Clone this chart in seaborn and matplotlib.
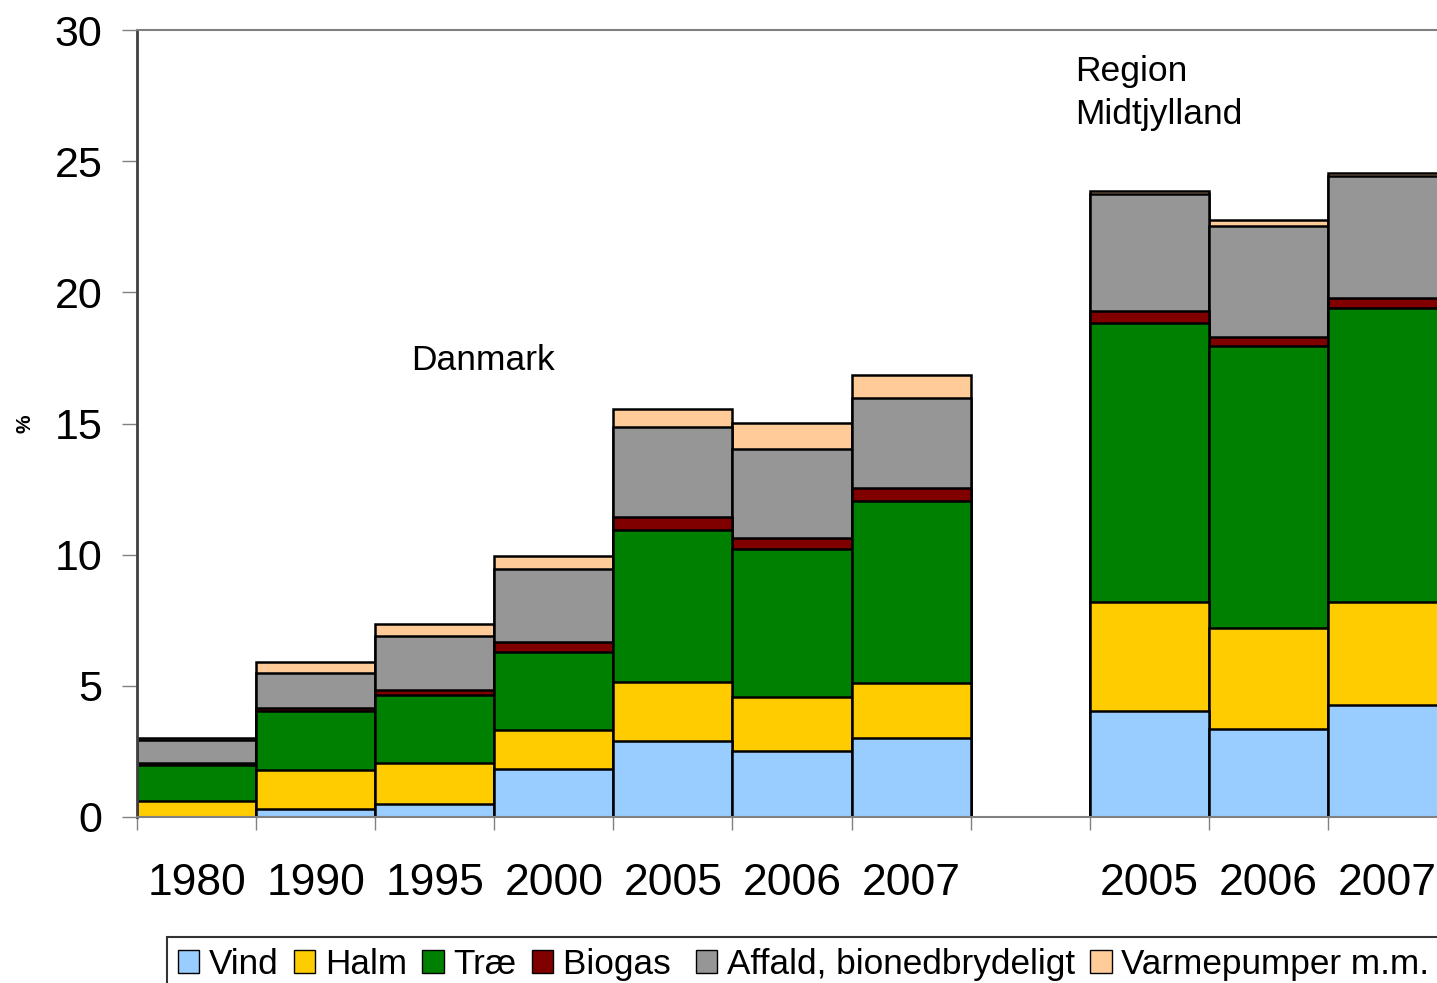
import pandas as pd
import matplotlib.pyplot as plt
import seaborn as sns
from matplotlib.patches import Patch

# ---------- data (percent) ----------
slots = ['DK1980', 'DK1990', 'DK1995', 'DK2000', 'DK2005', 'DK2006', 'DK2007',
         'gap', 'MJ2005', 'MJ2006', 'MJ2007']
tick_labels = ['1980', '1990', '1995', '2000', '2005', '2006', '2007',
               '', '2005', '2006', '2007']
bar_keys = [s for s in slots if s != 'gap']

vind   = [0.0, 0.3, 0.5, 1.83, 2.9, 2.5, 3.01, 4.03, 3.35, 4.26]
halm   = [0.6, 1.5, 1.55, 1.5, 2.23, 2.09, 2.11, 4.15, 3.84, 3.94]
trae   = [1.4, 2.25, 2.6, 2.95, 5.81, 5.61, 6.94, 10.66, 10.75, 11.21]
biogas = [0.05, 0.1, 0.2, 0.38, 0.48, 0.44, 0.47, 0.44, 0.37, 0.39]
affald = [0.9, 1.35, 2.05, 2.8, 3.46, 3.38, 3.45, 4.46, 4.23, 4.64]
varme  = [0.05, 0.4, 0.45, 0.5, 0.66, 1.01, 0.88, 0.13, 0.22, 0.11]

sources = ['Vind', 'Halm', 'Træ', 'Biogas', 'Affald, bionedbrydeligt', 'Varmepumper m.m.']
colors = ['#99CCFF', '#FFCC00', '#008000', '#800000', '#969696', '#FFCC99']

df = pd.DataFrame({'slot': bar_keys, 'Vind': vind, 'Halm': halm, 'Træ': trae,
                   'Biogas': biogas, 'Affald, bionedbrydeligt': affald,
                   'Varmepumper m.m.': varme})
cum = df[sources].cumsum(axis=1)
cum['slot'] = df['slot']

# ---------- style ----------
sns.set_style('white')
plt.rcParams['font.family'] = ['Liberation Sans', 'DejaVu Sans']
plt.rcParams['text.color'] = 'black'
plt.rcParams['xtick.labelcolor'] = 'black'
plt.rcParams['ytick.labelcolor'] = 'black'

W, H = 1437, 983
fig = plt.figure(figsize=(W / 100, H / 100), dpi=100)
ax = fig.add_axes([137 / W, 1 - 817 / H, 1 - 137 / W, 787 / H])

# draw cumulative layers from top to bottom so they stack visually
for src, col in reversed(list(zip(sources, colors))):
    sns.barplot(data=cum, x='slot', y=src, order=slots, color=col,
                width=1, edgecolor='black', linewidth=1.8,
                saturation=1, ax=ax, errorbar=None)

ax.set_ylim(0, 30)
ax.set_yticks(range(0, 31, 5))
ax.tick_params(axis='y', labelsize=31, length=11, width=1, color='#808080',
               pad=14, left=True, direction='out')

ax.set_xticks(range(len(slots)))
ax.set_xticklabels(tick_labels)
ax.set_xticks([i - 0.5 for i in range(len(slots) + 1)], minor=True)
ax.tick_params(axis='x', which='major', length=0, labelsize=32, pad=33)
ax.tick_params(axis='x', which='minor', length=9, width=1, color='#808080',
               bottom=True, direction='out')
# set limits after the ticks, otherwise set_xticks widens them
ax.set_xlim(-0.5, -0.5 + 1300 / 119.1)

ax.set_xlabel('')
ax.set_ylabel('%', fontsize=15, fontweight='bold', labelpad=14, color='black')

for side in ['top', 'bottom']:
    ax.spines[side].set_color('#808080')
    ax.spines[side].set_linewidth(1.5)
ax.spines['left'].set_color('#404040')
ax.spines['left'].set_linewidth(2)
ax.spines['right'].set_visible(False)

ax.text(1.8, 17.4, 'Danmark', fontsize=25.5, va='center', ha='left')
ax.text(7.38, 29.05, 'Region\nMidtjylland', fontsize=25.5, va='top', ha='left',
        linespacing=1.38)

handles = [Patch(facecolor=c, edgecolor='black', linewidth=1, label=s)
           for s, c in zip(sources, colors)]
handles[3].set_label('Biogas ')
leg = fig.legend(handles=handles, loc='upper left',
                 bbox_to_anchor=(167 / W, 1 - 937 / H), ncol=6, fontsize=25.3,
                 frameon=True, fancybox=False, edgecolor='black',
                 borderpad=0.3, borderaxespad=0, handlelength=0.62,
                 handleheight=0.62, handletextpad=0.27, columnspacing=0.43)
leg.get_frame().set_linewidth(1.5)

plt.savefig('out.png', dpi=100)
